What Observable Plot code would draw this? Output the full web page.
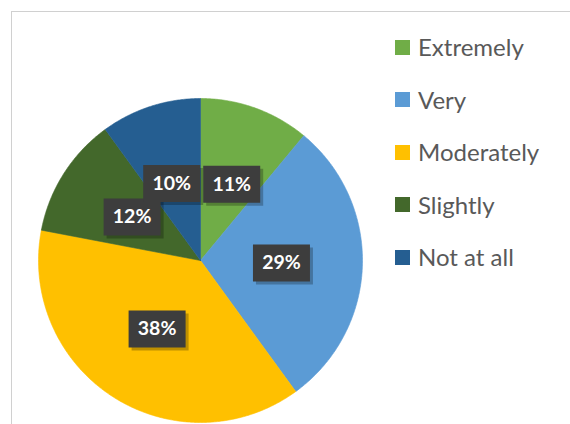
<!DOCTYPE html>
<html><head><meta charset="utf-8">
<script src="https://cdn.jsdelivr.net/npm/d3@7"></script>
<script src="https://cdn.jsdelivr.net/npm/@observablehq/plot@0.6"></script>
<style>
body{margin:0;width:570px;height:424px;overflow:hidden;background:#fff;font-family:Lato,sans-serif;position:relative}
#frame{position:absolute;left:11px;top:11px;width:700px;height:600px;border:1px solid #d0d0d0;}
#chart{position:absolute;left:0;top:0}
#legend{position:absolute;left:395px;top:0}
.item{position:absolute;left:0;display:flex;align-items:center;white-space:nowrap;color:#595959;font-size:24px;line-height:1;transform:translateY(-50%)}
.sw{width:15px;height:15px;margin-right:8px;flex:none}
</style></head><body>
<div id="frame"></div>
<div id="chart"></div>
<div id="legend"></div>
<script>
const categories = ["Extremely", "Very", "Moderately", "Slightly", "Not at all"];
const values = [11, 29, 38, 12, 10];
const labels = ["11%", "29%", "38%", "12%", "10%"];
const colors = ["#70AD47", "#5B9BD5", "#FFC000", "#43682B", "#255E91"];

const R = 162; // pixel radius
const arcs = d3.pie().sort(null).value(d => d)(values);
const pts = [];
arcs.forEach((a, i) => {
  pts.push({cat: categories[i], x: 0, y: 0});
  const n = Math.max(2, Math.ceil((a.endAngle - a.startAngle) / (Math.PI / 360)));
  for (let k = 0; k <= n; k++) {
    const t = a.startAngle + (a.endAngle - a.startAngle) * k / n;
    pts.push({cat: categories[i], x: Math.sin(t), y: Math.cos(t)});
  }
  pts.push({cat: categories[i], x: 0, y: 0});
});
const lbls = arcs.map((a, i) => {
  const m = (a.startAngle + a.endAngle) / 2;
  return {label: labels[i], x: 0.5 * Math.sin(m), y: 0.5 * Math.cos(m)};
});
// push overlapping label boxes apart horizontally
const bw = 57 / R, bh = 37 / R, gap = 3 / R;
for (let i = 0; i < lbls.length; i++) for (let j = i + 1; j < lbls.length; j++) {
  const a = lbls[i], b = lbls[j];
  const ox = bw + gap - Math.abs(a.x - b.x), oy = bh - Math.abs(a.y - b.y);
  if (ox > 0 && oy > 0 && Math.abs(a.y - b.y) < bh / 3) {
    const s = a.x < b.x ? -1 : 1;
    a.x += s * ox / 2; b.x -= s * ox / 2;
  }
}
const glow = d3.range(1, 11).map(k => ({x: 0, y: 0, k}));
const box = {draw(ctx) { ctx.rect(-28.5, -18.5, 57, 37); }};

const chart = Plot.plot({
  width: 570, height: 424,
  marginLeft: 38, marginRight: 208, marginTop: 98, marginBottom: 2,
  x: {domain: [-1, 1], axis: null},
  y: {domain: [-1, 1], axis: null},
  color: {domain: categories, range: colors},
  style: {background: "transparent"},
  marks: [
    Plot.dot(glow, {x: "x", y: "y", r: d => R + d.k * 1.2, fill: "#000", fillOpacity: 0.012, stroke: null}),
    ...categories.map((c, i) =>
      Plot.line(pts.filter(p => p.cat === c), {x: "x", y: "y", fill: colors[i], stroke: colors[i], strokeWidth: 0.6, curve: "linear"})
    ),
    Plot.dot(lbls, {x: "x", y: "y", symbol: box, fill: "#000", fillOpacity: 0.25, stroke: null, dx: 3, dy: 3}),
    Plot.dot(lbls, {x: "x", y: "y", symbol: box, fill: "#3d3d3d", stroke: null}),
    Plot.text(lbls, {x: "x", y: "y", text: "label", fill: "white", fontSize: 19.5, fontWeight: "bold", fontFamily: "Lato, sans-serif"})
  ]
});
document.getElementById("chart").append(chart);

const legend = document.getElementById("legend");
categories.forEach((c, i) => {
  const it = document.createElement("div");
  it.className = "item";
  it.style.top = (47 + i * 52.5) + "px";
  const sw = document.createElement("span");
  sw.className = "sw";
  sw.style.background = colors[i];
  const tx = document.createElement("span");
  tx.textContent = c;
  it.append(sw, tx);
  legend.append(it);
});
</script>
</body></html>
